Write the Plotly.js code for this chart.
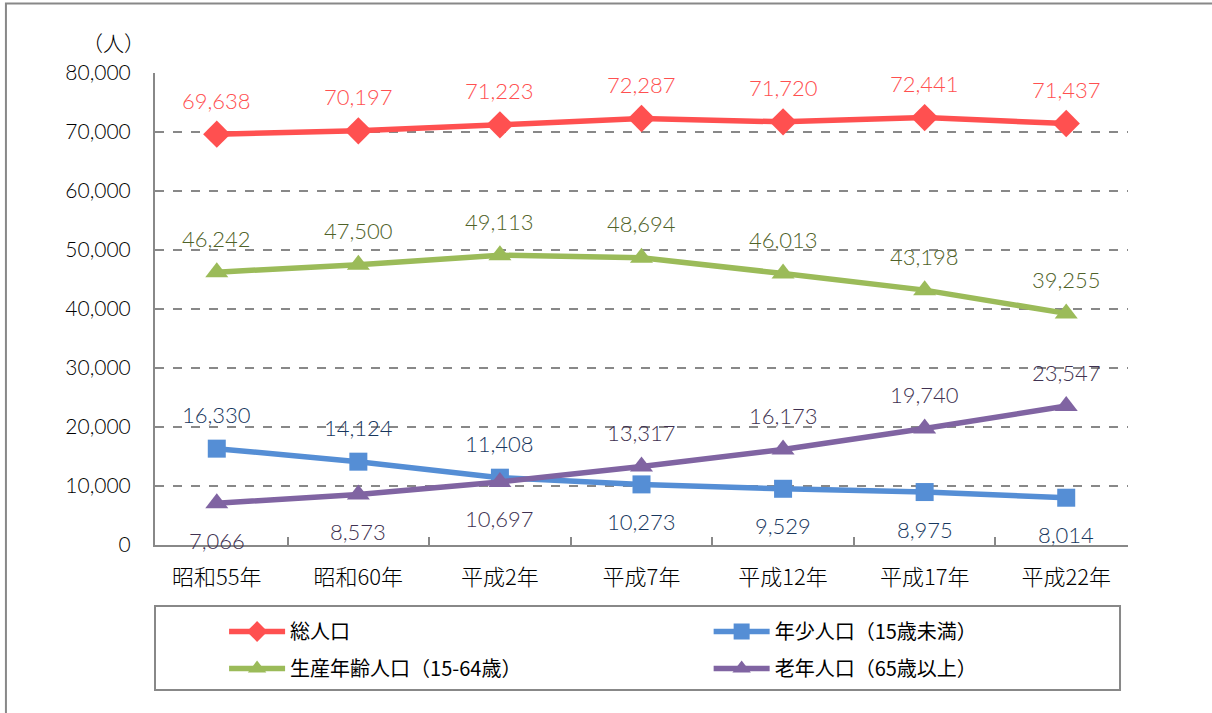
<!DOCTYPE html>
<html>
<head>
<meta charset="utf-8">
<script src="https://cdn.plot.ly/plotly-3.0.1.min.js"></script>
<style>html,body{margin:0;padding:0;background:#fff;}#chart{width:1212px;height:713px;}</style>
</head>
<body>
<div id="chart"></div>
<script>
const categories = ["昭和55年", "昭和60年", "平成2年", "平成7年", "平成12年", "平成17年", "平成22年"];
const totalPop = [69638, 70197, 71223, 72287, 71720, 72441, 71437];
const youthPop = [16330, 14124, 11408, 10273, 9529, 8975, 8014];
const workingPop = [46242, 47500, 49113, 48694, 46013, 43198, 39255];
const elderlyPop = [7066, 8573, 10697, 13317, 16173, 19740, 23547];
const seriesNames = ["総人口", "年少人口（15歳未満）", "生産年齢人口（15-64歳）", "老年人口（65歳以上）"];
const yTicks = [0, 10000, 20000, 30000, 40000, 50000, 60000, 70000, 80000];
const yTickText = ["0", "10,000", "20,000", "30,000", "40,000", "50,000", "60,000", "70,000", "80,000"];
// label placement: 1 = above, -1 = below
const totalLabelSide = [1, 1, 1, 1, 1, 1, 1];
const youthLabelSide = [1, 1, 1, -1, -1, -1, -1];
const workingLabelSide = [1, 1, 1, 1, 1, 1, 1];
const elderlyLabelSide = [-1, -1, -1, 1, 1, 1, 1];

const numFont = "Century Gothic, Lato, 'Noto Sans', sans-serif";
const jpFont = "'Noto Sans CJK JP', sans-serif";

const fmt = v => v.toLocaleString('en-US');

function mk(name, vals, color, symbol, size, legend, group) {
  return {
    type: 'scatter', mode: 'lines+markers', x: categories, y: vals, name: name,
    line: {color: color, width: 5.5},
    marker: {color: color, symbol: symbol, size: size},
    legend: legend, legendgroup: group, cliponaxis: false
  };
}

const traces = [
  mk(seriesNames[0], totalPop, '#FF5050', 'diamond', 21, 'legend', 'a'),
  mk(seriesNames[2], workingPop, '#9BBB59', 'triangle-up', 20, 'legend', 'c'),
  mk(seriesNames[1], youthPop, '#558ED5', 'square', 18, 'legend2', 'b'),
  mk(seriesNames[3], elderlyPop, '#8064A2', 'triangle-up', 20, 'legend2', 'd')
];

const annotations = [];
function addLabels(vals, sides, color) {
  vals.forEach((v, i) => {
    annotations.push({
      x: categories[i], y: v, xref: 'x', yref: 'y', text: fmt(v), showarrow: false,
      yshift: sides[i] > 0 ? 34 : -37, xanchor: 'center', yanchor: 'middle',
      font: {family: numFont, size: 22, color: color, weight: 300}
    });
  });
}
addLabels(totalPop, totalLabelSide, '#FF5050');
addLabels(workingPop, workingLabelSide, '#4F6228');
addLabels(youthPop, youthLabelSide, '#17375E');
addLabels(elderlyPop, elderlyLabelSide, '#403151');
annotations.push({
  xref: 'paper', yref: 'paper', x: -0.008, y: 1.066, xanchor: 'right', yanchor: 'middle',
  text: '（人）', showarrow: false, font: {family: jpFont, size: 21, color: '#000', weight: 300}
});

const layout = {
  width: 1212, height: 713,
  margin: {l: 155, r: 84, t: 73, b: 168},
  paper_bgcolor: '#fff', plot_bgcolor: '#fff',
  showlegend: true,
  xaxis: {
    type: 'category', tickson: 'boundaries', ticks: 'inside', ticklen: 8, tickwidth: 2, tickcolor: '#888',
    showline: true, linecolor: '#888', linewidth: 2, showgrid: false, zeroline: false,
    tickfont: {family: jpFont, size: 22, color: '#000', weight: 300}, ticklabelstandoff: 12
  },
  yaxis: {
    range: [0, 80000], tickvals: yTicks, ticktext: yTickText, tickmode: 'array',
    showline: true, linecolor: '#888', linewidth: 2, ticks: '',
    showgrid: true, gridcolor: '#888', griddash: 'dash', gridwidth: 1.5, zeroline: false,
    tickfont: {family: numFont, size: 21, color: '#000', weight: 300}, ticklabelstandoff: 18
  },
  legend: {
    orientation: 'v', x: 0.071, y: -0.142, xanchor: 'left', yanchor: 'top',
    bgcolor: 'rgba(0,0,0,0)', borderwidth: 0, itemwidth: 56, tracegroupgap: 8,
    font: {family: jpFont, size: 20, color: '#000'}
  },
  legend2: {
    orientation: 'v', x: 0.569, y: -0.142, xanchor: 'left', yanchor: 'top',
    bgcolor: 'rgba(0,0,0,0)', borderwidth: 0, itemwidth: 56, tracegroupgap: 8,
    font: {family: jpFont, size: 20, color: '#000'}
  },
  shapes: [
    {type: 'rect', xref: 'paper', yref: 'paper', x0: 0, x1: 0.9918, y0: -0.1292, y1: -0.3072,
     line: {color: '#888', width: 2}},
    {type: 'rect', xref: 'paper', yref: 'paper', x0: -0.1532, x1: 1.095, y0: 1.1472, y1: -0.37,
     line: {color: '#888', width: 2}}
  ],
  annotations: annotations
};

Plotly.newPlot('chart', traces, layout, {displayModeBar: false, staticPlot: true});
</script>
</body>
</html>
